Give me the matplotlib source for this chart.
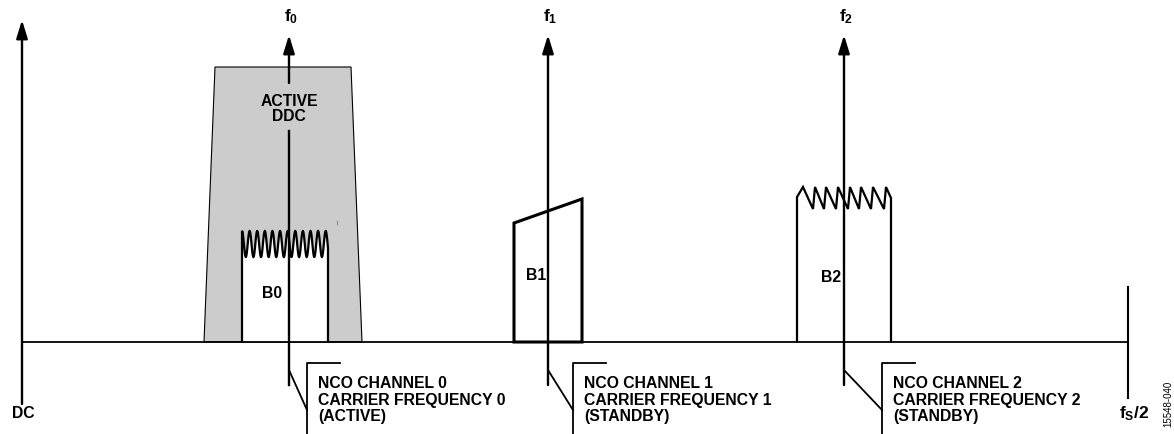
import numpy as np
import matplotlib
matplotlib.use("Agg")
import matplotlib.pyplot as plt
from matplotlib.patches import Polygon

plt.rcParams['font.family'] = ['Liberation Sans', 'DejaVu Sans']
plt.rcParams['mathtext.fontset'] = 'custom'
plt.rcParams['mathtext.rm'] = 'Liberation Sans:bold'
plt.rcParams['mathtext.it'] = 'Liberation Sans:bold'
plt.rcParams['mathtext.bf'] = 'Liberation Sans:bold'

# diagram geometry (pixel units, y down)
base_y = 342
dc_x = 22
fs2_x = 1128
carrier_x = [289, 548, 844]
carrier_labels = [r"$f_0$", r"$f_1$", r"$f_2$"]
bracket_x = [307, 573, 882]
nco_text = [
    "NCO CHANNEL 0\nCARRIER FREQUENCY 0\n(ACTIVE)",
    "NCO CHANNEL 1\nCARRIER FREQUENCY 1\n(STANDBY)",
    "NCO CHANNEL 2\nCARRIER FREQUENCY 2\n(STANDBY)",
]

# active DDC filter trapezoid
ddc_x = [204, 215, 351, 362]
ddc_y = [342, 67, 67, 342]

# B0: rippled top
b0_left, b0_right = 242, 328
b0_mid, b0_amp, b0_cycles = 244, 13, 11.3
# B1: sloped top
b1_x = [514, 514, 582, 582]
b1_y = [342, 223, 199, 342]
# B2: sawtooth top
b2_left, b2_right = 797, 891
b2_peaks = [803, 815, 826, 838, 850, 861, 873, 886]
b2_peak_y, b2_trough_y = 187, 209

band_labels = ["B0", "B1", "B2"]
band_label_pos = [(272, 293), (536, 276), (831, 277)]

fig = plt.figure(figsize=(11.74, 4.34), dpi=100)
ax = fig.add_axes([0, 0, 1, 1])
ax.set_xlim(0, 1174)
ax.set_ylim(434, 0)
ax.axis('off')

def arrow(x, y0, y1, lw=1.7):
    ax.annotate('', xy=(x, y1), xytext=(x, y0),
                arrowprops=dict(arrowstyle='-|>,head_length=1.1,head_width=0.34',
                                lw=lw, color='black', shrinkA=0, shrinkB=0))

# gray DDC trapezoid
ax.add_patch(Polygon(list(zip(ddc_x, ddc_y)), closed=True, facecolor='#cccccc',
                     edgecolor='black', lw=0.8, zorder=1))

# B0 with ripple
xs = np.linspace(b0_left, b0_right, 400)
ys = b0_mid - b0_amp * np.cos(2 * np.pi * b0_cycles * (xs - b0_left) / (b0_right - b0_left))
b0_pts = [(b0_left, base_y)] + list(zip(xs, ys)) + [(b0_right, base_y)]
ax.add_patch(Polygon(b0_pts, closed=False, facecolor='white', edgecolor='black',
                     lw=1.6, zorder=2))
ax.plot([337, 337], [221, 224], color='#888888', lw=0.8, zorder=2)

# B1
ax.add_patch(Polygon(list(zip(b1_x, b1_y)), closed=True, facecolor='white',
                     edgecolor='black', lw=2.2, zorder=2))

# B2 with sawtooth
b2_pts = [(b2_left, base_y), (b2_left, 197)]
for i, p in enumerate(b2_peaks):
    b2_pts.append((p, b2_peak_y))
    if i < len(b2_peaks) - 1:
        b2_pts.append((b2_peaks[i + 1] - 2, b2_trough_y))
b2_pts += [(b2_right, 198), (b2_right, base_y)]
ax.add_patch(Polygon(b2_pts, closed=False, facecolor='white', edgecolor='black',
                     lw=1.6, zorder=2))

# baseline, DC axis, fs/2 marker
ax.plot([dc_x, fs2_x], [base_y, base_y], color='black', lw=1.3, zorder=3)
arrow(dc_x, 404, 20)
ax.plot([fs2_x, fs2_x], [287, 398], color='black', lw=1.5, zorder=3)

# carrier arrows (f0 line broken behind the ACTIVE DDC text)
for i, cx in enumerate(carrier_x):
    if i == 0:
        ax.plot([cx, cx], [385, 131], color='black', lw=1.7, zorder=3)
        arrow(cx, 83, 35)
    else:
        arrow(cx, 385, 35)
    ax.text(cx + 2, 17, carrier_labels[i], ha='center', va='center', fontsize=12.5)
    bx = bracket_x[i]
    ax.plot([cx, bx], [370, 410], color='black', lw=1.3, zorder=3)
    ax.plot([bx + 33, bx, bx], [363, 363, 434], color='black', lw=1.3, zorder=3)
    ax.text(bx + 11, 400, nco_text[i], ha='left', va='center', fontsize=11.3,
            fontweight='bold', linespacing=1.14)

ax.text(carrier_x[0], 109, "ACTIVE\nDDC", ha='center', va='center', fontsize=11.3,
        fontweight='bold', linespacing=0.97, zorder=4)

for lab, (lx, ly) in zip(band_labels, band_label_pos):
    ax.text(lx, ly, lab, ha='center', va='center', fontsize=11.3, fontweight='bold', zorder=4)

ax.text(23, 414, "DC", ha='center', va='center', fontsize=11.3, fontweight='bold')
ax.text(1134, 414, r"$f_S/2$", ha='center', va='center', fontsize=12.5)
ax.text(1168, 404, "15548-040", ha='center', va='center', rotation=90, fontsize=7)

fig.savefig("out.png", dpi=100)
